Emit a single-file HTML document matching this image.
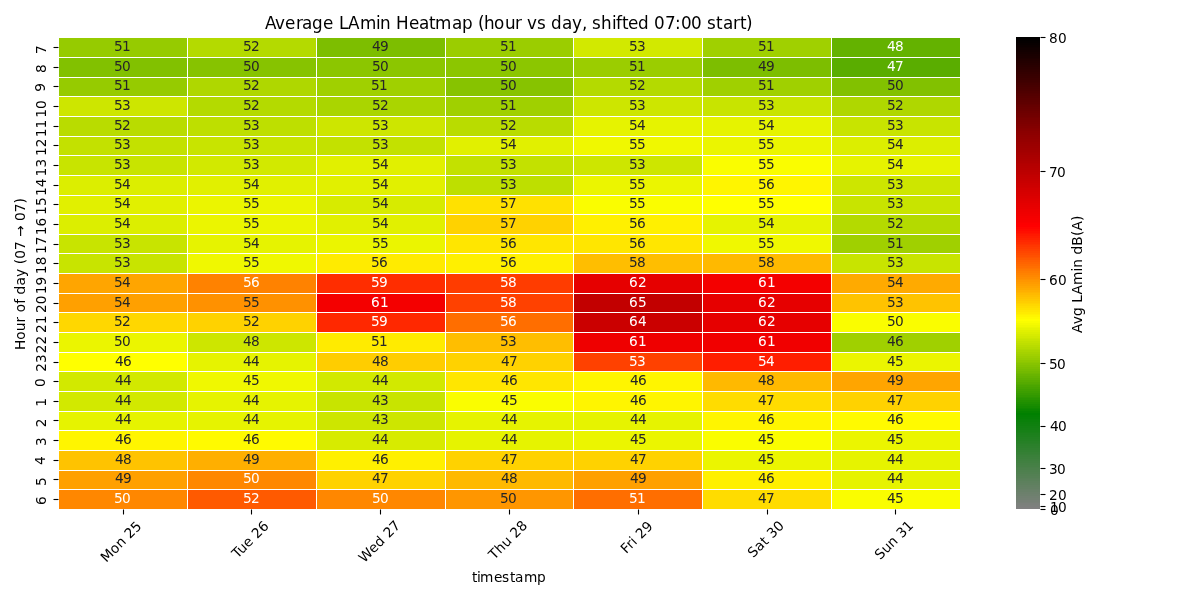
<!DOCTYPE html>
<html><head><meta charset="utf-8"><title>Average LAmin Heatmap</title>
<style>html,body{margin:0;padding:0;background:#fff;overflow:hidden}svg{display:block}</style></head>
<body>
<svg width="1200" height="600" viewBox="0 0 1200 600">
<rect width="1200" height="600" fill="#fff"/>
<g shape-rendering="crispEdges">
<rect x="59" y="38" width="128" height="19" fill="#96cb00"/>
<rect x="188" y="38" width="128" height="19" fill="#b4da00"/>
<rect x="317" y="38" width="128" height="19" fill="#7dbe00"/>
<rect x="446" y="38" width="127" height="19" fill="#9bcd00"/>
<rect x="574" y="38" width="128" height="19" fill="#d2e900"/>
<rect x="703" y="38" width="128" height="19" fill="#a0d000"/>
<rect x="832" y="38" width="128" height="19" fill="#64b200"/>
<rect x="59" y="58" width="128" height="19" fill="#82c100"/>
<rect x="188" y="58" width="128" height="19" fill="#87c300"/>
<rect x="317" y="58" width="128" height="19" fill="#8cc600"/>
<rect x="446" y="58" width="127" height="19" fill="#8cc600"/>
<rect x="574" y="58" width="128" height="19" fill="#9bcd00"/>
<rect x="703" y="58" width="128" height="19" fill="#7dbe00"/>
<rect x="832" y="58" width="128" height="19" fill="#5aad00"/>
<rect x="59" y="78" width="128" height="18" fill="#96cb00"/>
<rect x="188" y="78" width="128" height="18" fill="#afd700"/>
<rect x="317" y="78" width="128" height="18" fill="#a0d000"/>
<rect x="446" y="78" width="127" height="18" fill="#87c300"/>
<rect x="574" y="78" width="128" height="18" fill="#b4da00"/>
<rect x="703" y="78" width="128" height="18" fill="#a0d000"/>
<rect x="832" y="78" width="128" height="18" fill="#82c100"/>
<rect x="59" y="97" width="128" height="19" fill="#cde600"/>
<rect x="188" y="97" width="128" height="19" fill="#b4da00"/>
<rect x="317" y="97" width="128" height="19" fill="#aad500"/>
<rect x="446" y="97" width="127" height="19" fill="#a0d000"/>
<rect x="574" y="97" width="128" height="19" fill="#cde600"/>
<rect x="703" y="97" width="128" height="19" fill="#c8e400"/>
<rect x="832" y="97" width="128" height="19" fill="#afd700"/>
<rect x="59" y="117" width="128" height="19" fill="#b9dc00"/>
<rect x="188" y="117" width="128" height="19" fill="#bedf00"/>
<rect x="317" y="117" width="128" height="19" fill="#cde600"/>
<rect x="446" y="117" width="127" height="19" fill="#b9dc00"/>
<rect x="574" y="117" width="128" height="19" fill="#e6f300"/>
<rect x="703" y="117" width="128" height="19" fill="#e6f300"/>
<rect x="832" y="117" width="128" height="19" fill="#c8e400"/>
<rect x="59" y="137" width="128" height="18" fill="#c3e100"/>
<rect x="188" y="137" width="128" height="18" fill="#c8e400"/>
<rect x="317" y="137" width="128" height="18" fill="#c3e100"/>
<rect x="446" y="137" width="127" height="18" fill="#e1f000"/>
<rect x="574" y="137" width="128" height="18" fill="#f0f800"/>
<rect x="703" y="137" width="128" height="18" fill="#ebf500"/>
<rect x="832" y="137" width="128" height="18" fill="#dcee00"/>
<rect x="59" y="156" width="128" height="19" fill="#c8e400"/>
<rect x="188" y="156" width="128" height="19" fill="#d2e900"/>
<rect x="317" y="156" width="128" height="19" fill="#e1f000"/>
<rect x="446" y="156" width="127" height="19" fill="#c3e100"/>
<rect x="574" y="156" width="128" height="19" fill="#cde600"/>
<rect x="703" y="156" width="128" height="19" fill="#fafd00"/>
<rect x="832" y="156" width="128" height="19" fill="#e6f300"/>
<rect x="59" y="176" width="128" height="19" fill="#dcee00"/>
<rect x="188" y="176" width="128" height="19" fill="#e1f000"/>
<rect x="317" y="176" width="128" height="19" fill="#e1f000"/>
<rect x="446" y="176" width="127" height="19" fill="#bedf00"/>
<rect x="574" y="176" width="128" height="19" fill="#ebf500"/>
<rect x="703" y="176" width="128" height="19" fill="#fff500"/>
<rect x="832" y="176" width="128" height="19" fill="#cde600"/>
<rect x="59" y="196" width="128" height="18" fill="#e1f000"/>
<rect x="188" y="196" width="128" height="18" fill="#ebf500"/>
<rect x="317" y="196" width="128" height="18" fill="#d7eb00"/>
<rect x="446" y="196" width="127" height="18" fill="#ffe100"/>
<rect x="574" y="196" width="128" height="18" fill="#fafd00"/>
<rect x="703" y="196" width="128" height="18" fill="#ffff00"/>
<rect x="832" y="196" width="128" height="18" fill="#c8e400"/>
<rect x="59" y="215" width="128" height="19" fill="#dcee00"/>
<rect x="188" y="215" width="128" height="19" fill="#ebf500"/>
<rect x="317" y="215" width="128" height="19" fill="#e1f000"/>
<rect x="446" y="215" width="127" height="19" fill="#ffd200"/>
<rect x="574" y="215" width="128" height="19" fill="#fff000"/>
<rect x="703" y="215" width="128" height="19" fill="#e6f300"/>
<rect x="832" y="215" width="128" height="19" fill="#b4da00"/>
<rect x="59" y="235" width="128" height="18" fill="#c8e400"/>
<rect x="188" y="235" width="128" height="18" fill="#e6f300"/>
<rect x="317" y="235" width="128" height="18" fill="#ebf500"/>
<rect x="446" y="235" width="127" height="18" fill="#ffe600"/>
<rect x="574" y="235" width="128" height="18" fill="#ffe600"/>
<rect x="703" y="235" width="128" height="18" fill="#f0f800"/>
<rect x="832" y="235" width="128" height="18" fill="#a0d000"/>
<rect x="59" y="254" width="128" height="19" fill="#c8e400"/>
<rect x="188" y="254" width="128" height="19" fill="#f0f800"/>
<rect x="317" y="254" width="128" height="19" fill="#ffeb00"/>
<rect x="446" y="254" width="127" height="19" fill="#fff000"/>
<rect x="574" y="254" width="128" height="19" fill="#ffbe00"/>
<rect x="703" y="254" width="128" height="19" fill="#ffb900"/>
<rect x="832" y="254" width="128" height="19" fill="#c8e400"/>
<rect x="59" y="274" width="128" height="19" fill="#ffa500"/>
<rect x="188" y="274" width="128" height="19" fill="#ff8200"/>
<rect x="317" y="274" width="128" height="19" fill="#ff2d00"/>
<rect x="446" y="274" width="127" height="19" fill="#ff3c00"/>
<rect x="574" y="274" width="128" height="19" fill="#e60000"/>
<rect x="703" y="274" width="128" height="19" fill="#f40000"/>
<rect x="832" y="274" width="128" height="19" fill="#ffaa00"/>
<rect x="59" y="294" width="128" height="18" fill="#ffa000"/>
<rect x="188" y="294" width="128" height="18" fill="#ff9100"/>
<rect x="317" y="294" width="128" height="18" fill="#f40000"/>
<rect x="446" y="294" width="127" height="18" fill="#ff4100"/>
<rect x="574" y="294" width="128" height="18" fill="#c20000"/>
<rect x="703" y="294" width="128" height="18" fill="#e60000"/>
<rect x="832" y="294" width="128" height="18" fill="#ffc300"/>
<rect x="59" y="313" width="128" height="19" fill="#ffd700"/>
<rect x="188" y="313" width="128" height="19" fill="#ffd200"/>
<rect x="317" y="313" width="128" height="19" fill="#ff2800"/>
<rect x="446" y="313" width="127" height="19" fill="#ff6e00"/>
<rect x="574" y="313" width="128" height="19" fill="#cb0000"/>
<rect x="703" y="313" width="128" height="19" fill="#e60000"/>
<rect x="832" y="313" width="128" height="19" fill="#fafd00"/>
<rect x="59" y="333" width="128" height="19" fill="#ebf500"/>
<rect x="188" y="333" width="128" height="19" fill="#cde600"/>
<rect x="317" y="333" width="128" height="19" fill="#ffeb00"/>
<rect x="446" y="333" width="127" height="19" fill="#ffbe00"/>
<rect x="574" y="333" width="128" height="19" fill="#ef0000"/>
<rect x="703" y="333" width="128" height="19" fill="#f10000"/>
<rect x="832" y="333" width="128" height="19" fill="#a0d000"/>
<rect x="59" y="353" width="128" height="18" fill="#ffff00"/>
<rect x="188" y="353" width="128" height="18" fill="#e6f300"/>
<rect x="317" y="353" width="128" height="18" fill="#ffcd00"/>
<rect x="446" y="353" width="127" height="18" fill="#ffd200"/>
<rect x="574" y="353" width="128" height="18" fill="#ff4100"/>
<rect x="703" y="353" width="128" height="18" fill="#ff1e00"/>
<rect x="832" y="353" width="128" height="18" fill="#ebf500"/>
<rect x="59" y="372" width="128" height="19" fill="#d2e900"/>
<rect x="188" y="372" width="128" height="19" fill="#f0f800"/>
<rect x="317" y="372" width="128" height="19" fill="#d2e900"/>
<rect x="446" y="372" width="127" height="19" fill="#ffe600"/>
<rect x="574" y="372" width="128" height="19" fill="#fff500"/>
<rect x="703" y="372" width="128" height="19" fill="#ffb900"/>
<rect x="832" y="372" width="128" height="19" fill="#ffa500"/>
<rect x="59" y="392" width="128" height="19" fill="#d2e900"/>
<rect x="188" y="392" width="128" height="19" fill="#e6f300"/>
<rect x="317" y="392" width="128" height="19" fill="#c8e400"/>
<rect x="446" y="392" width="127" height="19" fill="#fafd00"/>
<rect x="574" y="392" width="128" height="19" fill="#fff500"/>
<rect x="703" y="392" width="128" height="19" fill="#ffdc00"/>
<rect x="832" y="392" width="128" height="19" fill="#ffd200"/>
<rect x="59" y="412" width="128" height="18" fill="#e6f300"/>
<rect x="188" y="412" width="128" height="18" fill="#e6f300"/>
<rect x="317" y="412" width="128" height="18" fill="#cde600"/>
<rect x="446" y="412" width="127" height="18" fill="#e6f300"/>
<rect x="574" y="412" width="128" height="18" fill="#e6f300"/>
<rect x="703" y="412" width="128" height="18" fill="#fff500"/>
<rect x="832" y="412" width="128" height="18" fill="#fffa00"/>
<rect x="59" y="431" width="128" height="19" fill="#fff500"/>
<rect x="188" y="431" width="128" height="19" fill="#fffa00"/>
<rect x="317" y="431" width="128" height="19" fill="#d7eb00"/>
<rect x="446" y="431" width="127" height="19" fill="#e6f300"/>
<rect x="574" y="431" width="128" height="19" fill="#ebf500"/>
<rect x="703" y="431" width="128" height="19" fill="#fafd00"/>
<rect x="832" y="431" width="128" height="19" fill="#ebf500"/>
<rect x="59" y="451" width="128" height="19" fill="#ffc300"/>
<rect x="188" y="451" width="128" height="19" fill="#ffaf00"/>
<rect x="317" y="451" width="128" height="19" fill="#fff000"/>
<rect x="446" y="451" width="127" height="19" fill="#ffd200"/>
<rect x="574" y="451" width="128" height="19" fill="#ffd200"/>
<rect x="703" y="451" width="128" height="19" fill="#ebf500"/>
<rect x="832" y="451" width="128" height="19" fill="#e6f300"/>
<rect x="59" y="471" width="128" height="18" fill="#ffa000"/>
<rect x="188" y="471" width="128" height="18" fill="#ff8700"/>
<rect x="317" y="471" width="128" height="18" fill="#ffd200"/>
<rect x="446" y="471" width="127" height="18" fill="#ffb900"/>
<rect x="574" y="471" width="128" height="18" fill="#ffa000"/>
<rect x="703" y="471" width="128" height="18" fill="#fff000"/>
<rect x="832" y="471" width="128" height="18" fill="#e6f300"/>
<rect x="59" y="490" width="128" height="19" fill="#ff8700"/>
<rect x="188" y="490" width="128" height="19" fill="#ff5a00"/>
<rect x="317" y="490" width="128" height="19" fill="#ff8700"/>
<rect x="446" y="490" width="127" height="19" fill="#ff9600"/>
<rect x="574" y="490" width="128" height="19" fill="#ff6e00"/>
<rect x="703" y="490" width="128" height="19" fill="#ffdc00"/>
<rect x="832" y="490" width="128" height="19" fill="#fafd00"/>
</g>
<g shape-rendering="crispEdges">
<rect x="1016" y="37" width="24" height="2" fill="#000000"/>
<rect x="1016" y="39" width="24" height="2" fill="#030000"/>
<rect x="1016" y="41" width="24" height="2" fill="#050000"/>
<rect x="1016" y="43" width="24" height="2" fill="#080000"/>
<rect x="1016" y="45" width="24" height="2" fill="#0b0000"/>
<rect x="1016" y="47" width="24" height="1" fill="#0e0000"/>
<rect x="1016" y="48" width="24" height="2" fill="#100000"/>
<rect x="1016" y="50" width="24" height="2" fill="#130000"/>
<rect x="1016" y="52" width="24" height="2" fill="#160000"/>
<rect x="1016" y="54" width="24" height="2" fill="#190000"/>
<rect x="1016" y="56" width="24" height="2" fill="#1b0000"/>
<rect x="1016" y="58" width="24" height="1" fill="#1e0000"/>
<rect x="1016" y="59" width="24" height="2" fill="#210000"/>
<rect x="1016" y="61" width="24" height="2" fill="#230000"/>
<rect x="1016" y="63" width="24" height="2" fill="#260000"/>
<rect x="1016" y="65" width="24" height="2" fill="#290000"/>
<rect x="1016" y="67" width="24" height="2" fill="#2c0000"/>
<rect x="1016" y="69" width="24" height="1" fill="#2e0000"/>
<rect x="1016" y="70" width="24" height="2" fill="#310000"/>
<rect x="1016" y="72" width="24" height="2" fill="#340000"/>
<rect x="1016" y="74" width="24" height="2" fill="#370000"/>
<rect x="1016" y="76" width="24" height="2" fill="#390000"/>
<rect x="1016" y="78" width="24" height="2" fill="#3c0000"/>
<rect x="1016" y="80" width="24" height="2" fill="#3f0000"/>
<rect x="1016" y="82" width="24" height="1" fill="#410000"/>
<rect x="1016" y="83" width="24" height="2" fill="#440000"/>
<rect x="1016" y="85" width="24" height="2" fill="#470000"/>
<rect x="1016" y="87" width="24" height="2" fill="#4a0000"/>
<rect x="1016" y="89" width="24" height="2" fill="#4c0000"/>
<rect x="1016" y="91" width="24" height="2" fill="#4f0000"/>
<rect x="1016" y="93" width="24" height="1" fill="#520000"/>
<rect x="1016" y="94" width="24" height="2" fill="#540000"/>
<rect x="1016" y="96" width="24" height="2" fill="#570000"/>
<rect x="1016" y="98" width="24" height="2" fill="#5a0000"/>
<rect x="1016" y="100" width="24" height="2" fill="#5d0000"/>
<rect x="1016" y="102" width="24" height="2" fill="#5f0000"/>
<rect x="1016" y="104" width="24" height="1" fill="#620000"/>
<rect x="1016" y="105" width="24" height="2" fill="#650000"/>
<rect x="1016" y="107" width="24" height="2" fill="#680000"/>
<rect x="1016" y="109" width="24" height="2" fill="#6a0000"/>
<rect x="1016" y="111" width="24" height="2" fill="#6d0000"/>
<rect x="1016" y="113" width="24" height="2" fill="#700000"/>
<rect x="1016" y="115" width="24" height="2" fill="#720000"/>
<rect x="1016" y="117" width="24" height="1" fill="#750000"/>
<rect x="1016" y="118" width="24" height="2" fill="#780000"/>
<rect x="1016" y="120" width="24" height="2" fill="#7b0000"/>
<rect x="1016" y="122" width="24" height="2" fill="#7d0000"/>
<rect x="1016" y="124" width="24" height="2" fill="#800000"/>
<rect x="1016" y="126" width="24" height="2" fill="#830000"/>
<rect x="1016" y="128" width="24" height="1" fill="#860000"/>
<rect x="1016" y="129" width="24" height="2" fill="#880000"/>
<rect x="1016" y="131" width="24" height="2" fill="#8b0000"/>
<rect x="1016" y="133" width="24" height="2" fill="#8d0000"/>
<rect x="1016" y="135" width="24" height="2" fill="#900000"/>
<rect x="1016" y="137" width="24" height="2" fill="#920000"/>
<rect x="1016" y="139" width="24" height="1" fill="#940000"/>
<rect x="1016" y="140" width="24" height="2" fill="#960000"/>
<rect x="1016" y="142" width="24" height="2" fill="#990000"/>
<rect x="1016" y="144" width="24" height="2" fill="#9b0000"/>
<rect x="1016" y="146" width="24" height="2" fill="#9d0000"/>
<rect x="1016" y="148" width="24" height="2" fill="#9f0000"/>
<rect x="1016" y="150" width="24" height="2" fill="#a20000"/>
<rect x="1016" y="152" width="24" height="1" fill="#a40000"/>
<rect x="1016" y="153" width="24" height="2" fill="#a60000"/>
<rect x="1016" y="155" width="24" height="2" fill="#a90000"/>
<rect x="1016" y="157" width="24" height="2" fill="#ab0000"/>
<rect x="1016" y="159" width="24" height="2" fill="#ad0000"/>
<rect x="1016" y="161" width="24" height="2" fill="#af0000"/>
<rect x="1016" y="163" width="24" height="1" fill="#b20000"/>
<rect x="1016" y="164" width="24" height="2" fill="#b40000"/>
<rect x="1016" y="166" width="24" height="2" fill="#b60000"/>
<rect x="1016" y="168" width="24" height="2" fill="#b80000"/>
<rect x="1016" y="170" width="24" height="2" fill="#bb0000"/>
<rect x="1016" y="172" width="24" height="2" fill="#bd0000"/>
<rect x="1016" y="174" width="24" height="1" fill="#bf0000"/>
<rect x="1016" y="175" width="24" height="2" fill="#c20000"/>
<rect x="1016" y="177" width="24" height="2" fill="#c40000"/>
<rect x="1016" y="179" width="24" height="2" fill="#c60000"/>
<rect x="1016" y="181" width="24" height="2" fill="#c80000"/>
<rect x="1016" y="183" width="24" height="2" fill="#cb0000"/>
<rect x="1016" y="185" width="24" height="2" fill="#cd0000"/>
<rect x="1016" y="187" width="24" height="1" fill="#cf0000"/>
<rect x="1016" y="188" width="24" height="2" fill="#d20000"/>
<rect x="1016" y="190" width="24" height="2" fill="#d40000"/>
<rect x="1016" y="192" width="24" height="2" fill="#d60000"/>
<rect x="1016" y="194" width="24" height="2" fill="#d80000"/>
<rect x="1016" y="196" width="24" height="2" fill="#db0000"/>
<rect x="1016" y="198" width="24" height="1" fill="#dd0000"/>
<rect x="1016" y="199" width="24" height="2" fill="#df0000"/>
<rect x="1016" y="201" width="24" height="2" fill="#e10000"/>
<rect x="1016" y="203" width="24" height="2" fill="#e40000"/>
<rect x="1016" y="205" width="24" height="2" fill="#e60000"/>
<rect x="1016" y="207" width="24" height="2" fill="#e80000"/>
<rect x="1016" y="209" width="24" height="1" fill="#eb0000"/>
<rect x="1016" y="210" width="24" height="2" fill="#ed0000"/>
<rect x="1016" y="212" width="24" height="2" fill="#ef0000"/>
<rect x="1016" y="214" width="24" height="2" fill="#f10000"/>
<rect x="1016" y="216" width="24" height="2" fill="#f40000"/>
<rect x="1016" y="218" width="24" height="2" fill="#f60000"/>
<rect x="1016" y="220" width="24" height="2" fill="#f80000"/>
<rect x="1016" y="222" width="24" height="1" fill="#fa0000"/>
<rect x="1016" y="223" width="24" height="2" fill="#fd0000"/>
<rect x="1016" y="225" width="24" height="2" fill="#ff0000"/>
<rect x="1016" y="227" width="24" height="2" fill="#ff0500"/>
<rect x="1016" y="229" width="24" height="2" fill="#ff0a00"/>
<rect x="1016" y="231" width="24" height="2" fill="#ff0f00"/>
<rect x="1016" y="233" width="24" height="1" fill="#ff1400"/>
<rect x="1016" y="234" width="24" height="2" fill="#ff1900"/>
<rect x="1016" y="236" width="24" height="2" fill="#ff1e00"/>
<rect x="1016" y="238" width="24" height="2" fill="#ff2300"/>
<rect x="1016" y="240" width="24" height="2" fill="#ff2800"/>
<rect x="1016" y="242" width="24" height="2" fill="#ff2d00"/>
<rect x="1016" y="244" width="24" height="1" fill="#ff3200"/>
<rect x="1016" y="245" width="24" height="2" fill="#ff3700"/>
<rect x="1016" y="247" width="24" height="2" fill="#ff3c00"/>
<rect x="1016" y="249" width="24" height="2" fill="#ff4100"/>
<rect x="1016" y="251" width="24" height="2" fill="#ff4600"/>
<rect x="1016" y="253" width="24" height="2" fill="#ff4b00"/>
<rect x="1016" y="255" width="24" height="2" fill="#ff5000"/>
<rect x="1016" y="257" width="24" height="1" fill="#ff5500"/>
<rect x="1016" y="258" width="24" height="2" fill="#ff5a00"/>
<rect x="1016" y="260" width="24" height="2" fill="#ff5f00"/>
<rect x="1016" y="262" width="24" height="2" fill="#ff6400"/>
<rect x="1016" y="264" width="24" height="2" fill="#ff6900"/>
<rect x="1016" y="266" width="24" height="2" fill="#ff6e00"/>
<rect x="1016" y="268" width="24" height="1" fill="#ff7300"/>
<rect x="1016" y="269" width="24" height="2" fill="#ff7800"/>
<rect x="1016" y="271" width="24" height="2" fill="#ff7d00"/>
<rect x="1016" y="273" width="24" height="2" fill="#ff8200"/>
<rect x="1016" y="275" width="24" height="2" fill="#ff8700"/>
<rect x="1016" y="277" width="24" height="2" fill="#ff8c00"/>
<rect x="1016" y="279" width="24" height="1" fill="#ff9100"/>
<rect x="1016" y="280" width="24" height="2" fill="#ff9600"/>
<rect x="1016" y="282" width="24" height="2" fill="#ff9b00"/>
<rect x="1016" y="284" width="24" height="2" fill="#ffa000"/>
<rect x="1016" y="286" width="24" height="2" fill="#ffa500"/>
<rect x="1016" y="288" width="24" height="2" fill="#ffaa00"/>
<rect x="1016" y="290" width="24" height="2" fill="#ffaf00"/>
<rect x="1016" y="292" width="24" height="1" fill="#ffb400"/>
<rect x="1016" y="293" width="24" height="2" fill="#ffb900"/>
<rect x="1016" y="295" width="24" height="2" fill="#ffbe00"/>
<rect x="1016" y="297" width="24" height="2" fill="#ffc300"/>
<rect x="1016" y="299" width="24" height="2" fill="#ffc800"/>
<rect x="1016" y="301" width="24" height="2" fill="#ffcd00"/>
<rect x="1016" y="303" width="24" height="1" fill="#ffd200"/>
<rect x="1016" y="304" width="24" height="2" fill="#ffd700"/>
<rect x="1016" y="306" width="24" height="2" fill="#ffdc00"/>
<rect x="1016" y="308" width="24" height="2" fill="#ffe100"/>
<rect x="1016" y="310" width="24" height="2" fill="#ffe600"/>
<rect x="1016" y="312" width="24" height="2" fill="#ffeb00"/>
<rect x="1016" y="314" width="24" height="1" fill="#fff000"/>
<rect x="1016" y="315" width="24" height="2" fill="#fff500"/>
<rect x="1016" y="317" width="24" height="2" fill="#fffa00"/>
<rect x="1016" y="319" width="24" height="2" fill="#ffff00"/>
<rect x="1016" y="321" width="24" height="2" fill="#fafd00"/>
<rect x="1016" y="323" width="24" height="2" fill="#f5fa00"/>
<rect x="1016" y="325" width="24" height="2" fill="#f0f800"/>
<rect x="1016" y="327" width="24" height="1" fill="#ebf500"/>
<rect x="1016" y="328" width="24" height="2" fill="#e6f300"/>
<rect x="1016" y="330" width="24" height="2" fill="#e1f000"/>
<rect x="1016" y="332" width="24" height="2" fill="#dcee00"/>
<rect x="1016" y="334" width="24" height="2" fill="#d7eb00"/>
<rect x="1016" y="336" width="24" height="2" fill="#d2e900"/>
<rect x="1016" y="338" width="24" height="1" fill="#cde600"/>
<rect x="1016" y="339" width="24" height="2" fill="#c8e400"/>
<rect x="1016" y="341" width="24" height="2" fill="#c3e100"/>
<rect x="1016" y="343" width="24" height="2" fill="#bedf00"/>
<rect x="1016" y="345" width="24" height="2" fill="#b9dc00"/>
<rect x="1016" y="347" width="24" height="2" fill="#b4da00"/>
<rect x="1016" y="349" width="24" height="1" fill="#afd700"/>
<rect x="1016" y="350" width="24" height="2" fill="#aad500"/>
<rect x="1016" y="352" width="24" height="2" fill="#a5d200"/>
<rect x="1016" y="354" width="24" height="2" fill="#a0d000"/>
<rect x="1016" y="356" width="24" height="2" fill="#9bcd00"/>
<rect x="1016" y="358" width="24" height="2" fill="#96cb00"/>
<rect x="1016" y="360" width="24" height="2" fill="#91c800"/>
<rect x="1016" y="362" width="24" height="1" fill="#8cc600"/>
<rect x="1016" y="363" width="24" height="2" fill="#87c300"/>
<rect x="1016" y="365" width="24" height="2" fill="#82c100"/>
<rect x="1016" y="367" width="24" height="2" fill="#7dbe00"/>
<rect x="1016" y="369" width="24" height="2" fill="#78bc00"/>
<rect x="1016" y="371" width="24" height="2" fill="#73b900"/>
<rect x="1016" y="373" width="24" height="1" fill="#6eb700"/>
<rect x="1016" y="374" width="24" height="2" fill="#69b400"/>
<rect x="1016" y="376" width="24" height="2" fill="#64b200"/>
<rect x="1016" y="378" width="24" height="2" fill="#5faf00"/>
<rect x="1016" y="380" width="24" height="2" fill="#5aad00"/>
<rect x="1016" y="382" width="24" height="2" fill="#55aa00"/>
<rect x="1016" y="384" width="24" height="1" fill="#50a800"/>
<rect x="1016" y="385" width="24" height="2" fill="#4ba500"/>
<rect x="1016" y="387" width="24" height="2" fill="#46a300"/>
<rect x="1016" y="389" width="24" height="2" fill="#41a000"/>
<rect x="1016" y="391" width="24" height="2" fill="#3c9e00"/>
<rect x="1016" y="393" width="24" height="2" fill="#379b00"/>
<rect x="1016" y="395" width="24" height="2" fill="#329900"/>
<rect x="1016" y="397" width="24" height="1" fill="#2d9600"/>
<rect x="1016" y="398" width="24" height="2" fill="#289400"/>
<rect x="1016" y="400" width="24" height="2" fill="#239100"/>
<rect x="1016" y="402" width="24" height="2" fill="#1e8f00"/>
<rect x="1016" y="404" width="24" height="2" fill="#198c00"/>
<rect x="1016" y="406" width="24" height="2" fill="#148a00"/>
<rect x="1016" y="408" width="24" height="1" fill="#0f8700"/>
<rect x="1016" y="409" width="24" height="2" fill="#0a8500"/>
<rect x="1016" y="411" width="24" height="2" fill="#058200"/>
<rect x="1016" y="413" width="24" height="2" fill="#008000"/>
<rect x="1016" y="415" width="24" height="2" fill="#038003"/>
<rect x="1016" y="417" width="24" height="2" fill="#058005"/>
<rect x="1016" y="419" width="24" height="1" fill="#088008"/>
<rect x="1016" y="420" width="24" height="2" fill="#0a800a"/>
<rect x="1016" y="422" width="24" height="2" fill="#0d800d"/>
<rect x="1016" y="424" width="24" height="2" fill="#0f800f"/>
<rect x="1016" y="426" width="24" height="2" fill="#128012"/>
<rect x="1016" y="428" width="24" height="2" fill="#148014"/>
<rect x="1016" y="430" width="24" height="2" fill="#178017"/>
<rect x="1016" y="432" width="24" height="1" fill="#198019"/>
<rect x="1016" y="433" width="24" height="2" fill="#1c801c"/>
<rect x="1016" y="435" width="24" height="2" fill="#1e801e"/>
<rect x="1016" y="437" width="24" height="2" fill="#218021"/>
<rect x="1016" y="439" width="24" height="2" fill="#238023"/>
<rect x="1016" y="441" width="24" height="2" fill="#268026"/>
<rect x="1016" y="443" width="24" height="1" fill="#288028"/>
<rect x="1016" y="444" width="24" height="2" fill="#2b802b"/>
<rect x="1016" y="446" width="24" height="2" fill="#2d802d"/>
<rect x="1016" y="448" width="24" height="2" fill="#308030"/>
<rect x="1016" y="450" width="24" height="2" fill="#328032"/>
<rect x="1016" y="452" width="24" height="2" fill="#358035"/>
<rect x="1016" y="454" width="24" height="1" fill="#378037"/>
<rect x="1016" y="455" width="24" height="2" fill="#3a803a"/>
<rect x="1016" y="457" width="24" height="2" fill="#3c803c"/>
<rect x="1016" y="459" width="24" height="2" fill="#3f803f"/>
<rect x="1016" y="461" width="24" height="2" fill="#418041"/>
<rect x="1016" y="463" width="24" height="2" fill="#448044"/>
<rect x="1016" y="465" width="24" height="2" fill="#468046"/>
<rect x="1016" y="467" width="24" height="1" fill="#498049"/>
<rect x="1016" y="468" width="24" height="2" fill="#4b804b"/>
<rect x="1016" y="470" width="24" height="2" fill="#4e804e"/>
<rect x="1016" y="472" width="24" height="2" fill="#508050"/>
<rect x="1016" y="474" width="24" height="2" fill="#538053"/>
<rect x="1016" y="476" width="24" height="2" fill="#558055"/>
<rect x="1016" y="478" width="24" height="1" fill="#588058"/>
<rect x="1016" y="479" width="24" height="2" fill="#5a805a"/>
<rect x="1016" y="481" width="24" height="2" fill="#5d805d"/>
<rect x="1016" y="483" width="24" height="2" fill="#5f805f"/>
<rect x="1016" y="485" width="24" height="2" fill="#628062"/>
<rect x="1016" y="487" width="24" height="2" fill="#648064"/>
<rect x="1016" y="489" width="24" height="1" fill="#678067"/>
<rect x="1016" y="490" width="24" height="2" fill="#698069"/>
<rect x="1016" y="492" width="24" height="2" fill="#6c806c"/>
<rect x="1016" y="494" width="24" height="2" fill="#6e806e"/>
<rect x="1016" y="496" width="24" height="2" fill="#718071"/>
<rect x="1016" y="498" width="24" height="2" fill="#738073"/>
<rect x="1016" y="500" width="24" height="2" fill="#768076"/>
<rect x="1016" y="502" width="24" height="1" fill="#788078"/>
<rect x="1016" y="503" width="24" height="2" fill="#7b807b"/>
<rect x="1016" y="505" width="24" height="2" fill="#7d807d"/>
<rect x="1016" y="507" width="24" height="2" fill="#808080"/>
</g>
<g stroke="#000" stroke-width="1.111">
<line x1="123.5" y1="509.5" x2="123.5" y2="514.5"/>
<line x1="251.5" y1="509.5" x2="251.5" y2="514.5"/>
<line x1="380.5" y1="509.5" x2="380.5" y2="514.5"/>
<line x1="509.5" y1="509.5" x2="509.5" y2="514.5"/>
<line x1="638.5" y1="509.5" x2="638.5" y2="514.5"/>
<line x1="767.5" y1="509.5" x2="767.5" y2="514.5"/>
<line x1="895.5" y1="509.5" x2="895.5" y2="514.5"/>
<line x1="53.5" y1="47.5" x2="58.5" y2="47.5"/>
<line x1="53.5" y1="67.5" x2="58.5" y2="67.5"/>
<line x1="53.5" y1="86.5" x2="58.5" y2="86.5"/>
<line x1="53.5" y1="106.5" x2="58.5" y2="106.5"/>
<line x1="53.5" y1="126.5" x2="58.5" y2="126.5"/>
<line x1="53.5" y1="145.5" x2="58.5" y2="145.5"/>
<line x1="53.5" y1="165.5" x2="58.5" y2="165.5"/>
<line x1="53.5" y1="185.5" x2="58.5" y2="185.5"/>
<line x1="53.5" y1="204.5" x2="58.5" y2="204.5"/>
<line x1="53.5" y1="224.5" x2="58.5" y2="224.5"/>
<line x1="53.5" y1="244.5" x2="58.5" y2="244.5"/>
<line x1="53.5" y1="263.5" x2="58.5" y2="263.5"/>
<line x1="53.5" y1="283.5" x2="58.5" y2="283.5"/>
<line x1="53.5" y1="303.5" x2="58.5" y2="303.5"/>
<line x1="53.5" y1="322.5" x2="58.5" y2="322.5"/>
<line x1="53.5" y1="342.5" x2="58.5" y2="342.5"/>
<line x1="53.5" y1="362.5" x2="58.5" y2="362.5"/>
<line x1="53.5" y1="381.5" x2="58.5" y2="381.5"/>
<line x1="53.5" y1="401.5" x2="58.5" y2="401.5"/>
<line x1="53.5" y1="420.5" x2="58.5" y2="420.5"/>
<line x1="53.5" y1="440.5" x2="58.5" y2="440.5"/>
<line x1="53.5" y1="460.5" x2="58.5" y2="460.5"/>
<line x1="53.5" y1="479.5" x2="58.5" y2="479.5"/>
<line x1="53.5" y1="499.5" x2="58.5" y2="499.5"/>
<line x1="1040.5" y1="37.5" x2="1045.5" y2="37.5"/>
<line x1="1040.5" y1="171.5" x2="1045.5" y2="171.5"/>
<line x1="1040.5" y1="279.5" x2="1045.5" y2="279.5"/>
<line x1="1040.5" y1="363.5" x2="1045.5" y2="363.5"/>
<line x1="1040.5" y1="426.5" x2="1045.5" y2="426.5"/>
<line x1="1040.5" y1="468.5" x2="1045.5" y2="468.5"/>
<line x1="1040.5" y1="494.5" x2="1045.5" y2="494.5"/>
<line x1="1040.5" y1="506.5" x2="1045.5" y2="506.5"/>
<line x1="1040.5" y1="509.5" x2="1045.5" y2="509.5"/>
</g>
<g font-family="'DejaVu Sans', 'Liberation Sans', sans-serif" font-size="13.7" fill="#000">
<text x="114 122" y="51" fill="#262626">51</text>
<text x="243 251" y="51" fill="#262626">52</text>
<text x="372 380" y="51" fill="#262626">49</text>
<text x="500 508" y="51" fill="#262626">51</text>
<text x="629 637" y="51" fill="#262626">53</text>
<text x="758 766" y="51" fill="#262626">51</text>
<text x="887 895" y="51" fill="#ffffff">48</text>
<text x="114 122" y="71" fill="#262626">50</text>
<text x="243 251" y="71" fill="#262626">50</text>
<text x="372 380" y="71" fill="#262626">50</text>
<text x="500 508" y="71" fill="#262626">50</text>
<text x="629 637" y="71" fill="#262626">51</text>
<text x="758 766" y="71" fill="#262626">49</text>
<text x="887 895" y="71" fill="#ffffff">47</text>
<text x="114 122" y="90" fill="#262626">51</text>
<text x="243 251" y="90" fill="#262626">52</text>
<text x="371 379" y="90" fill="#262626">51</text>
<text x="500 508" y="90" fill="#262626">50</text>
<text x="629 637" y="90" fill="#262626">52</text>
<text x="758 766" y="90" fill="#262626">51</text>
<text x="887 895" y="90" fill="#262626">50</text>
<text x="114 122" y="110" fill="#262626">53</text>
<text x="243 251" y="110" fill="#262626">52</text>
<text x="372 380" y="110" fill="#262626">52</text>
<text x="500 508" y="110" fill="#262626">51</text>
<text x="629 637" y="110" fill="#262626">53</text>
<text x="758 766" y="110" fill="#262626">53</text>
<text x="887 895" y="110" fill="#262626">52</text>
<text x="114 122" y="130" fill="#262626">52</text>
<text x="243 251" y="130" fill="#262626">53</text>
<text x="372 380" y="130" fill="#262626">53</text>
<text x="500 508" y="130" fill="#262626">52</text>
<text x="629 637" y="130" fill="#262626">54</text>
<text x="758 766" y="130" fill="#262626">54</text>
<text x="887 895" y="130" fill="#262626">53</text>
<text x="114 122" y="149" fill="#262626">53</text>
<text x="243 251" y="149" fill="#262626">53</text>
<text x="372 380" y="149" fill="#262626">53</text>
<text x="500 508" y="149" fill="#262626">54</text>
<text x="629 637" y="149" fill="#262626">55</text>
<text x="758 766" y="149" fill="#262626">55</text>
<text x="887 895" y="149" fill="#262626">54</text>
<text x="114 122" y="169" fill="#262626">53</text>
<text x="243 251" y="169" fill="#262626">53</text>
<text x="372 380" y="169" fill="#262626">54</text>
<text x="500 508" y="169" fill="#262626">53</text>
<text x="629 637" y="169" fill="#262626">53</text>
<text x="758 766" y="169" fill="#262626">55</text>
<text x="887 895" y="169" fill="#262626">54</text>
<text x="114 122" y="189" fill="#262626">54</text>
<text x="243 251" y="189" fill="#262626">54</text>
<text x="372 380" y="189" fill="#262626">54</text>
<text x="500 508" y="189" fill="#262626">53</text>
<text x="629 637" y="189" fill="#262626">55</text>
<text x="758 766" y="189" fill="#262626">56</text>
<text x="887 895" y="189" fill="#262626">53</text>
<text x="114 122" y="208" fill="#262626">54</text>
<text x="243 251" y="208" fill="#262626">55</text>
<text x="372 380" y="208" fill="#262626">54</text>
<text x="500 508" y="208" fill="#262626">57</text>
<text x="629 637" y="208" fill="#262626">55</text>
<text x="758 766" y="208" fill="#262626">55</text>
<text x="887 895" y="208" fill="#262626">53</text>
<text x="114 122" y="228" fill="#262626">54</text>
<text x="243 251" y="228" fill="#262626">55</text>
<text x="372 380" y="228" fill="#262626">54</text>
<text x="500 508" y="228" fill="#262626">57</text>
<text x="629 637" y="228" fill="#262626">56</text>
<text x="758 766" y="228" fill="#262626">54</text>
<text x="887 895" y="228" fill="#262626">52</text>
<text x="114 122" y="248" fill="#262626">53</text>
<text x="243 251" y="248" fill="#262626">54</text>
<text x="372 380" y="248" fill="#262626">55</text>
<text x="500 508" y="248" fill="#262626">56</text>
<text x="629 637" y="248" fill="#262626">56</text>
<text x="758 766" y="248" fill="#262626">55</text>
<text x="887 895" y="248" fill="#262626">51</text>
<text x="114 122" y="267" fill="#262626">53</text>
<text x="243 251" y="267" fill="#262626">55</text>
<text x="371 379" y="267" fill="#262626">56</text>
<text x="500 508" y="267" fill="#262626">56</text>
<text x="629 637" y="267" fill="#262626">58</text>
<text x="758 766" y="267" fill="#262626">58</text>
<text x="887 895" y="267" fill="#262626">53</text>
<text x="114 122" y="287" fill="#262626">54</text>
<text x="243 251" y="287" fill="#ffffff">56</text>
<text x="371 379" y="287" fill="#ffffff">59</text>
<text x="500 508" y="287" fill="#ffffff">58</text>
<text x="629 638" y="287" fill="#ffffff">62</text>
<text x="758 767" y="287" fill="#ffffff">61</text>
<text x="887 895" y="287" fill="#262626">54</text>
<text x="114 122" y="307" fill="#262626">54</text>
<text x="243 251" y="307" fill="#262626">55</text>
<text x="371 380" y="307" fill="#ffffff">61</text>
<text x="500 508" y="307" fill="#ffffff">58</text>
<text x="629 638" y="307" fill="#ffffff">65</text>
<text x="758 767" y="307" fill="#ffffff">62</text>
<text x="887 895" y="307" fill="#262626">53</text>
<text x="114 122" y="326" fill="#262626">52</text>
<text x="243 251" y="326" fill="#262626">52</text>
<text x="371 379" y="326" fill="#ffffff">59</text>
<text x="500 508" y="326" fill="#ffffff">56</text>
<text x="629 638" y="326" fill="#ffffff">64</text>
<text x="758 767" y="326" fill="#ffffff">62</text>
<text x="887 895" y="326" fill="#262626">50</text>
<text x="114 122" y="346" fill="#262626">50</text>
<text x="243 251" y="346" fill="#262626">48</text>
<text x="371 379" y="346" fill="#262626">51</text>
<text x="500 508" y="346" fill="#262626">53</text>
<text x="629 638" y="346" fill="#ffffff">61</text>
<text x="758 767" y="346" fill="#ffffff">61</text>
<text x="887 895" y="346" fill="#262626">46</text>
<text x="115 123" y="366" fill="#262626">46</text>
<text x="243 251" y="366" fill="#262626">44</text>
<text x="372 380" y="366" fill="#262626">48</text>
<text x="501 509" y="366" fill="#262626">47</text>
<text x="629 637" y="366" fill="#ffffff">53</text>
<text x="758 766" y="366" fill="#ffffff">54</text>
<text x="887 895" y="366" fill="#262626">45</text>
<text x="115 123" y="385" fill="#262626">44</text>
<text x="243 251" y="385" fill="#262626">45</text>
<text x="372 380" y="385" fill="#262626">44</text>
<text x="501 509" y="385" fill="#262626">46</text>
<text x="630 638" y="385" fill="#262626">46</text>
<text x="758 766" y="385" fill="#262626">48</text>
<text x="887 895" y="385" fill="#262626">49</text>
<text x="115 123" y="405" fill="#262626">44</text>
<text x="243 251" y="405" fill="#262626">44</text>
<text x="372 380" y="405" fill="#262626">43</text>
<text x="501 509" y="405" fill="#262626">45</text>
<text x="630 638" y="405" fill="#262626">46</text>
<text x="758 766" y="405" fill="#262626">47</text>
<text x="887 895" y="405" fill="#262626">47</text>
<text x="115 123" y="424" fill="#262626">44</text>
<text x="243 251" y="424" fill="#262626">44</text>
<text x="372 380" y="424" fill="#262626">43</text>
<text x="501 509" y="424" fill="#262626">44</text>
<text x="630 638" y="424" fill="#262626">44</text>
<text x="758 766" y="424" fill="#262626">46</text>
<text x="887 895" y="424" fill="#262626">46</text>
<text x="115 123" y="444" fill="#262626">46</text>
<text x="243 251" y="444" fill="#262626">46</text>
<text x="372 380" y="444" fill="#262626">44</text>
<text x="501 509" y="444" fill="#262626">44</text>
<text x="630 638" y="444" fill="#262626">45</text>
<text x="758 766" y="444" fill="#262626">45</text>
<text x="887 895" y="444" fill="#262626">45</text>
<text x="115 123" y="464" fill="#262626">48</text>
<text x="243 251" y="464" fill="#262626">49</text>
<text x="372 380" y="464" fill="#262626">46</text>
<text x="501 509" y="464" fill="#262626">47</text>
<text x="630 638" y="464" fill="#262626">47</text>
<text x="758 766" y="464" fill="#262626">45</text>
<text x="887 895" y="464" fill="#262626">44</text>
<text x="115 123" y="483" fill="#262626">49</text>
<text x="243 251" y="483" fill="#ffffff">50</text>
<text x="372 380" y="483" fill="#262626">47</text>
<text x="501 509" y="483" fill="#262626">48</text>
<text x="630 638" y="483" fill="#262626">49</text>
<text x="758 766" y="483" fill="#262626">46</text>
<text x="887 895" y="483" fill="#262626">44</text>
<text x="114 122" y="503" fill="#ffffff">50</text>
<text x="243 251" y="503" fill="#ffffff">52</text>
<text x="372 380" y="503" fill="#ffffff">50</text>
<text x="500 508" y="503" fill="#262626">50</text>
<text x="629 637" y="503" fill="#ffffff">51</text>
<text x="758 766" y="503" fill="#262626">47</text>
<text x="887 895" y="503" fill="#262626">45</text>
<text x="472 477 480 494 502 510 515 524 537" y="582">timestamp</text>
<text transform="translate(121.88 542.58) rotate(-45)" x="-25.56 -13.56 -5.06 3.69 8.06 16.81" y="3.50">Mon 25</text>
<text transform="translate(251.08 540.44) rotate(-45)" x="-22.81 -16.44 -7.69 0.81 5.19 13.94" y="3.50">Tue 26</text>
<text transform="translate(380.34 542.22) rotate(-45)" x="-26.12 -13.12 -4.62 4.25 8.62 17.38" y="3.50">Wed 27</text>
<text transform="translate(508.75 540.76) rotate(-45)" x="-24 -15.5 -6.75 2 6.38 15.12" y="3.50">Thu 28</text>
<text transform="translate(637.52 538.16) rotate(-45)" x="-19.31 -12.31 -6.56 -2.69 1.69 10.44" y="3.50">Fri 29</text>
<text transform="translate(766.69 539.99) rotate(-45)" x="-22.38 -13.62 -5 0.5 4.88 13.62" y="3.50">Sat 30</text>
<text transform="translate(894.82 540.77) rotate(-45)" x="-24.12 -15.38 -6.62 2.12 6.5 15.25" y="3.50">Sun 31</text>
<text transform="translate(21.21 274.02) rotate(-90)" x="-76 -65.62 -57.12 -48.38 -42.62 -38.25 -29.75 -24.75 -20.38 -11.5 -2.88 5.38 9.75 15.25 24 32.75 37.12 48.75 53.12 61.88 70.62" y="3.50">Hour of day (07 → 07)</text>
<text transform="translate(42.65 49.71) rotate(-90)" x="-4.38" y="3.50">7</text>
<text transform="translate(42.96 68.44) rotate(-90)" x="-4.44" y="3.50">8</text>
<text transform="translate(41.61 87.41) rotate(-90)" x="-4.44" y="3.50">9</text>
<text transform="translate(42.39 108.98) rotate(-90)" x="-8.81 0.06" y="3.50">10</text>
<text transform="translate(42.49 128.41) rotate(-90)" x="-8.88 0" y="3.50">11</text>
<text transform="translate(42.95 147.29) rotate(-90)" x="-8.81 0.06" y="3.50">12</text>
<text transform="translate(42.80 167.63) rotate(-90)" x="-8.81 0.06" y="3.50">13</text>
<text transform="translate(42.06 187.25) rotate(-90)" x="-8.81 0.06" y="3.50">14</text>
<text transform="translate(42.58 206.14) rotate(-90)" x="-8.81 0.06" y="3.50">15</text>
<text transform="translate(42.92 226.43) rotate(-90)" x="-8.88 0" y="3.50">16</text>
<text transform="translate(42.66 245.27) rotate(-90)" x="-8.81 0.06" y="3.50">17</text>
<text transform="translate(42.33 265.27) rotate(-90)" x="-8.88 0" y="3.50">18</text>
<text transform="translate(42.67 285.47) rotate(-90)" x="-8.88 0" y="3.50">19</text>
<text transform="translate(42.80 304.33) rotate(-90)" x="-8.75 0" y="3.50">20</text>
<text transform="translate(42.95 324.27) rotate(-90)" x="-8.81 -0.06" y="3.50">21</text>
<text transform="translate(42.99 344.50) rotate(-90)" x="-8.75 0" y="3.50">22</text>
<text transform="translate(42.92 363.10) rotate(-90)" x="-8.75 0" y="3.50">23</text>
<text transform="translate(41.57 382.72) rotate(-90)" x="-4.38" y="3.50">0</text>
<text transform="translate(42.58 402.39) rotate(-90)" x="-4.44" y="3.50">1</text>
<text transform="translate(42.31 422.78) rotate(-90)" x="-4.38" y="3.50">2</text>
<text transform="translate(42.94 441.51) rotate(-90)" x="-4.38" y="3.50">3</text>
<text transform="translate(41.88 460.73) rotate(-90)" x="-4.38" y="3.50">4</text>
<text transform="translate(42.77 481.58) rotate(-90)" x="-4.38" y="3.50">5</text>
<text transform="translate(42.37 500.65) rotate(-90)" x="-4.44" y="3.50">6</text>
<text font-size="16.8" x="265 275 285 296 302 312 323 333 339 348 360 376 380 391 396 409 419 429 435 452 462 473 478 484 494 505 515 522 527 537 546 551 562 572 582 587 592 601 612 616 622 628 638 649 654 665 675 681 691 702 707 716 723 733 740 746" y="29">Average LAmin Heatmap (hour vs day, shifted 07:00 start)</text>
<text transform="translate(1078.60 274.34) rotate(-90)" x="-58.62 -49.88 -41.62 -32.75 -28.38 -20.25 -10.75 2.75 6.62 15.38 19.75 28.62 38.25 43.75 53.25" y="3.50">Avg LAmin dB(A)</text>
<text x="1050" y="515">0</text>
<text x="1050 1058" y="512">10</text>
<text x="1049 1058" y="500">20</text>
<text x="1049 1057" y="474">30</text>
<text x="1050 1058" y="431">40</text>
<text x="1049 1057" y="369">50</text>
<text x="1049 1058" y="285">60</text>
<text x="1049 1057" y="177">70</text>
<text x="1049 1058" y="43">80</text>
</g>
</svg>
</body></html>
